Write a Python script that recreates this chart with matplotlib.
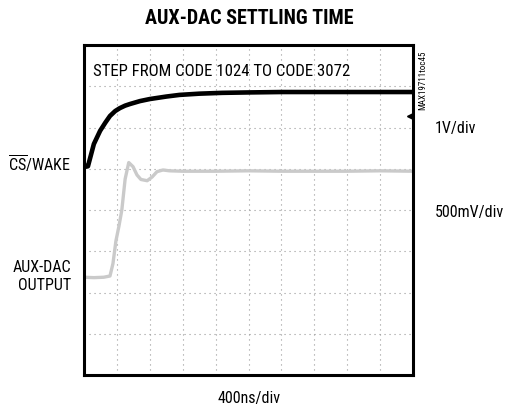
import numpy as np
import matplotlib.pyplot as plt

plt.rcParams['font.family'] = ['Roboto Condensed', 'DejaVu Sans']
plt.rcParams['mathtext.fontset'] = 'custom'
plt.rcParams['mathtext.rm'] = 'Roboto Condensed'

# scope traces, x in divisions (400ns/div), y in screen divisions from bottom
wake_t = [0.0, 0.06, 0.12, 0.2, 0.3, 0.49, 0.65, 0.79, 0.95, 1.09, 1.25, 1.4,
          1.7, 2.0, 2.5, 2.9, 3.5, 4.2, 5.0, 6.0, 7.0, 8.0, 9.0, 10.0]
wake_v = [5.1, 5.05, 5.06, 5.3, 5.6, 5.92, 6.12, 6.28, 6.4, 6.47, 6.53, 6.57,
          6.64, 6.69, 6.75, 6.79, 6.82, 6.84, 6.85, 6.86, 6.86, 6.86, 6.86, 6.86]

dac_t = [0.0, 0.3, 0.6, 0.79, 0.88, 0.97, 1.06, 1.15, 1.25, 1.36, 1.49, 1.61,
         1.73, 1.92, 2.07, 2.22, 2.4, 2.6, 3.0, 4.0, 5.0, 6.0, 7.0, 8.0, 9.0, 10.0]
dac_v = [2.37, 2.36, 2.37, 2.4, 2.7, 3.25, 3.6, 4.0, 4.75, 5.15, 5.05, 4.85,
         4.74, 4.71, 4.8, 4.93, 4.97, 4.95, 4.94, 4.94, 4.95, 4.94, 4.94, 4.94, 4.95, 4.94]

marker_pos = (9.92, 6.28)

fig = plt.figure(figsize=(5.25, 4.08), dpi=100)
ax = fig.add_axes([84/525, 1 - 375/408, 329/525, 330/408])

ax.plot(wake_t, wake_v, color='black', lw=3.3, solid_capstyle='butt')
ax.plot(dac_t, dac_v, color='#cacaca', lw=2.4)
ax.plot(*marker_pos, marker='<', color='black', ms=4)

ax.set_xlim(0, 10)
ax.set_ylim(0, 8)
ax.set_xticks(np.arange(1, 10))
ax.set_yticks(np.arange(1, 8))
ax.grid(True, color='#999999', lw=0.8, linestyle=(0, (1, 3.5)))
ax.tick_params(length=0, labelbottom=False, labelleft=False)
for s in ax.spines.values():
    s.set_linewidth(2.2)

fig.text(249/525, 1 - 18/408, 'AUX-DAC SETTLING TIME', ha='center', va='center',
         fontsize=14.5, fontweight='heavy')
ax.text(9/329, 1 - 27/330, 'STEP FROM CODE 1024 TO CODE 3072', transform=ax.transAxes,
        ha='left', va='center', fontsize=12.1)

fig.text(71/525, 1 - 164/408, r'$\overline{\mathrm{CS}}$/WAKE', ha='right', va='center', fontsize=11.5)
fig.text(71/525, 1 - 277/408, 'AUX-DAC\nOUTPUT', ha='right', va='center', fontsize=11.5,
         multialignment='right', linespacing=1.25)
fig.text(435/525, 1 - 128/408, '1V/div', ha='left', va='center', fontsize=11.5)
fig.text(435/525, 1 - 212/408, '500mV/div', ha='left', va='center', fontsize=11.5)
fig.text(423/525, 1 - 80/408, 'MAX19711toc45', ha='center', va='center',
         rotation=90, fontsize=6.5)
fig.text(249/525, 1 - 398/408, '400ns/div', ha='center', va='center', fontsize=11.5)

fig.savefig('out.png', dpi=100)
